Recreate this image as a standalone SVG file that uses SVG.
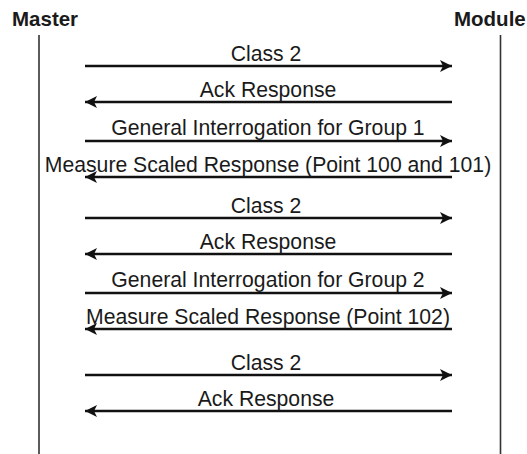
<svg xmlns="http://www.w3.org/2000/svg" width="527" height="454" viewBox="0 0 527 454">
<style>
.hdr{font-family:"Liberation Sans",Arial,sans-serif;font-size:20.5px;font-weight:bold;fill:#1a1a1a}
.lbl{font-family:"Liberation Sans",Arial,sans-serif;font-size:21.2px;fill:#1a1a1a;text-anchor:middle}
.life{stroke:#333;stroke-width:1.6;fill:none}
.msg{stroke:#111;stroke-width:2.6;fill:none}
.r{marker-end:url(#ah)}
.l{marker-start:url(#ahs)}
</style>
<defs>
<marker id="ah" markerUnits="userSpaceOnUse" markerWidth="14" markerHeight="14" viewBox="0 0 14 14" refX="13" refY="7" orient="auto">
<path d="M1,1 L13,7 L1,13 L4,7 Z" fill="#111"/>
</marker>
<marker id="ahs" markerUnits="userSpaceOnUse" markerWidth="14" markerHeight="14" viewBox="0 0 14 14" refX="1" refY="7" orient="auto">
<path d="M13,1 L1,7 L13,13 L10,7 Z" fill="#111"/>
</marker>
</defs>
<g id="master">
<text class="hdr" x="12" y="26">Master</text>
<line class="life" x1="39" y1="35" x2="39" y2="454"/>
</g>
<g id="module">
<text class="hdr" x="454" y="26">Module</text>
<line class="life" x1="500.5" y1="35" x2="500.5" y2="454"/>
</g>
<g id="connectors">
<line class="msg r" x1="85" y1="66" x2="452" y2="66"/>
<line class="msg l" x1="85" y1="102" x2="452" y2="102"/>
<line class="msg r" x1="85" y1="141" x2="452" y2="141"/>
<line class="msg l" x1="85" y1="177" x2="452" y2="177"/>
<line class="msg r" x1="85" y1="218" x2="452" y2="218"/>
<line class="msg l" x1="85" y1="254" x2="452" y2="254"/>
<line class="msg r" x1="85" y1="293" x2="452" y2="293"/>
<line class="msg l" x1="85" y1="329" x2="452" y2="329"/>
<line class="msg r" x1="85" y1="375" x2="452" y2="375"/>
<line class="msg l" x1="85" y1="411" x2="452" y2="411"/>
</g>
<g id="labels">
<text class="lbl" x="266" y="61">Class 2</text>
<text class="lbl" x="268" y="97">Ack Response</text>
<text class="lbl" x="268" y="135">General Interrogation for Group 1</text>
<text class="lbl" x="268" y="172">Measure Scaled Response (Point 100 and 101)</text>
<text class="lbl" x="266" y="213">Class 2</text>
<text class="lbl" x="268" y="249">Ack Response</text>
<text class="lbl" x="268" y="287">General Interrogation for Group 2</text>
<text class="lbl" x="268" y="324">Measure Scaled Response (Point 102)</text>
<text class="lbl" x="266" y="370">Class 2</text>
<text class="lbl" x="266" y="406">Ack Response</text>
</g>
</svg>
